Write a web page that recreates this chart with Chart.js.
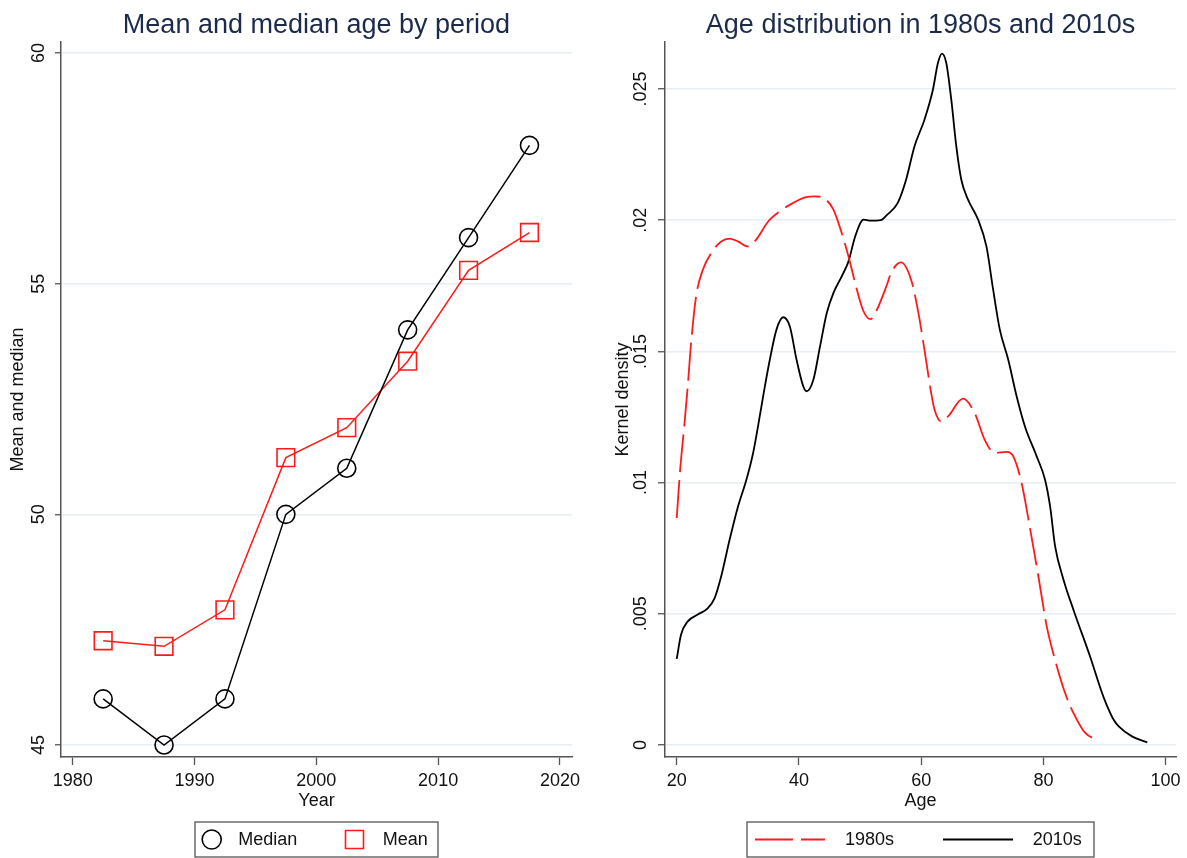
<!DOCTYPE html>
<html>
<head>
<meta charset="utf-8">
<title>Age by period</title>
<script src="https://cdn.jsdelivr.net/npm/chart.js@4/dist/chart.umd.min.js"></script>
<style>
  html, body { margin: 0; padding: 0; background: #fff; }
  #wrap { position: relative; width: 1187px; height: 858px; overflow: hidden; }
  canvas { position: absolute; top: 0; }
  #left { left: 0; }
  #right { left: 600px; }
</style>
</head>
<body>
<div id="wrap">
  <canvas id="left" width="600" height="858" style="width:600px;height:858px"></canvas>
  <canvas id="right" width="587" height="858" style="width:587px;height:858px"></canvas>
</div>
<script>
// ---- left panel: mean and median age, by five-year period ----
const periodMid = [1982.5, 1987.5, 1992.5, 1997.5, 2002.5, 2007.5, 2012.5, 2017.5];
const medianAge = [46, 45, 46, 50, 51, 54, 56, 58];
const meanAge = [47.26, 47.14, 47.93, 51.23, 51.88, 53.32, 55.29, 56.11];
const yearTicks = [1980, 1990, 2000, 2010, 2020];
const ageTicks = [45, 50, 55, 60];

// ---- right panel: kernel density of age ----
const age1980s = [20, 20.54, 21.25, 21.8, 22.35, 23.17, 24.27, 25.64, 27.28, 28.65, 30.0, 31.67, 33.0,
  34.96, 36.87, 39.07, 40.98, 42.62, 44.27, 45.64, 47.0, 48.11, 49.48, 50.58, 51.67, 52.76, 54.4, 55.07,
  56.7, 58.35, 59.45, 60.54, 61.64, 62.19, 63.29, 64.39, 66.85, 68.76, 70.4, 72.05, 73.97, 75.07, 76.44,
  77.8, 79.18, 80.55, 81.9, 83.55, 85.2, 86.84, 89.05];
const dens1980s = [0.00865, 0.01043, 0.0122, 0.01367, 0.01532, 0.0171, 0.01811, 0.01875, 0.01919, 0.0193,
  0.01919, 0.019, 0.01926, 0.01995, 0.02034, 0.02066, 0.02087, 0.02091, 0.02081, 0.0204, 0.01951, 0.01862,
  0.01735, 0.01652, 0.01623, 0.01659, 0.01754, 0.01799, 0.01839, 0.01773, 0.01659, 0.01506, 0.01341,
  0.01278, 0.01233, 0.01252, 0.0132, 0.01265, 0.01163, 0.01113, 0.01117, 0.011, 0.00998, 0.00827, 0.00643,
  0.00452, 0.00325, 0.00198, 0.00109, 0.00046, 0.00018];
const age2010s = [20, 20.7, 21.8, 23.45, 25.1, 26.2, 27.28, 28.65, 30.03, 31.4, 32.5, 33.58, 34.14, 35.23,
  36.32, 37.42, 38.51, 39.61, 40.7, 41.25, 42.36, 43.45, 44.55, 45.65, 47.0, 48.11, 49.2, 50.58, 51.7,
  53.4, 54.4, 56.17, 57.53, 58.9, 60.54, 61.92, 62.74, 63.4, 64.11, 64.93, 65.75, 66.57, 67.67, 69.32,
  70.68, 71.78, 72.87, 74.25, 75.62, 76.98, 78.9, 80.27, 81.1, 81.92, 83.29, 85.0, 87.6, 89.6, 90.4, 91.5,
  92.33, 94.5, 97.0];
const dens2010s = [0.00328, 0.0042, 0.00471, 0.00497, 0.00522, 0.0056, 0.00643, 0.00782, 0.00909, 0.01011,
  0.01113, 0.01252, 0.01329, 0.01468, 0.01583, 0.0163, 0.01595, 0.01468, 0.01367, 0.01348, 0.01392, 0.01519,
  0.01646, 0.01723, 0.01786, 0.01843, 0.01938, 0.02002, 0.01998, 0.02, 0.0202, 0.02066, 0.02154, 0.02281,
  0.02383, 0.02497, 0.02599, 0.02635, 0.02599, 0.02459, 0.02281, 0.02154, 0.02078, 0.02002, 0.019, 0.01735,
  0.01583, 0.01468, 0.01329, 0.01214, 0.011, 0.01011, 0.00909, 0.00757, 0.0063, 0.0051, 0.0034, 0.00198,
  0.0015, 0.00096, 0.00071, 0.00033, 0.0001];
const densAgeTicks = [20, 40, 60, 80, 100];
const densTicks = [0, 0.005, 0.01, 0.015, 0.02, 0.025];
const densTickLabels = ['0', '.005', '.01', '.015', '.02', '.025'];

const FONT = '"Liberation Sans", Arial, Helvetica, sans-serif';
const AXIS = '#555555';
const GRID = '#e6eef4';
const NAVY = '#1c2b4a';

Chart.defaults.font.family = FONT;
Chart.defaults.color = '#111111';

const toPoints = (xs, ys) => xs.map((x, i) => ({ x: x, y: ys[i] }));
const fixTicks = (values) => (scale) => { scale.ticks = values.map(v => ({ value: v })); };

// legend in a framed box, Stata style
const boxLegend = {
  id: 'boxLegend',
  afterDraw(chart, args, opts) {
    if (!opts || !opts.box) return;
    const ctx = chart.ctx;
    const [x0, y0, x1, y1] = opts.box;
    const cy = (y0 + y1) / 2;
    ctx.save();
    ctx.strokeStyle = AXIS;
    ctx.lineWidth = 1.3;
    ctx.strokeRect(x0, y0, x1 - x0, y1 - y0);
    ctx.font = '18px ' + FONT;
    ctx.textBaseline = 'middle';
    chart.data.datasets.forEach((ds, i) => {
      const it = opts.items[i];
      ctx.strokeStyle = ds.borderColor;
      ctx.lineWidth = ds.pointBorderWidth || ds.borderWidth;
      ctx.beginPath();
      if (it.lineTo) {
        ctx.setLineDash(ds.borderDash || []);
        ctx.moveTo(it.mark, cy);
        ctx.lineTo(it.lineTo, cy);
      } else if (ds.pointStyle === 'circle') {
        ctx.arc(it.mark, cy, it.size / 2, 0, Math.PI * 2);
      } else {
        ctx.rect(it.mark - it.size / 2, cy - it.size / 2, it.size, it.size);
      }
      ctx.stroke();
      ctx.setLineDash([]);
      ctx.fillStyle = '#111111';
      ctx.fillText(ds.label, it.text, cy + 1);
    });
    ctx.restore();
  }
};

function panelTitle(text) {
  return {
    display: true, text: text, fullSize: false, color: NAVY,
    font: { size: 27, weight: 'normal', family: FONT },
    padding: { top: 9, bottom: 0.6 }
  };
}

// ---------------- left chart ----------------
new Chart(document.getElementById('left'), {
  type: 'line',
  data: {
    datasets: [
      {
        label: 'Median',
        data: toPoints(periodMid, medianAge),
        borderColor: '#000000',
        borderWidth: 1.5,
        pointStyle: 'circle',
        pointRadius: 9,
        pointBorderWidth: 1.6,
        pointBackgroundColor: 'rgba(0,0,0,0)',
        pointBorderColor: '#000000',
        tension: 0
      },
      {
        label: 'Mean',
        data: toPoints(periodMid, meanAge),
        borderColor: '#ff1a1a',
        borderWidth: 1.5,
        pointStyle: 'rect',
        pointRadius: 12.5,
        pointBorderWidth: 1.6,
        pointBackgroundColor: 'rgba(0,0,0,0)',
        pointBorderColor: '#ff1a1a',
        tension: 0
      }
    ]
  },
  options: {
    responsive: false,
    animation: false,
    layout: { padding: { left: 0, right: 28, top: 0, bottom: 0 } },
    plugins: {
      legend: { display: false },
      tooltip: { enabled: false },
      title: panelTitle('Mean and median age by period'),
      boxLegend: {
        box: [195, 822, 438, 857],
        items: [
          { mark: 211.7, size: 19, text: 238.3 },
          { mark: 354.5, size: 18, text: 382.7 }
        ]
      }
    },
    scales: {
      x: {
        type: 'linear',
        min: 1979.04,
        max: 2020.99,
        afterBuildTicks: fixTicks(yearTicks),
        afterFit: (s) => { s.height = 101; },
        grid: { drawOnChartArea: false, tickLength: 8, tickColor: AXIS, tickWidth: 1.3 },
        border: { color: AXIS, width: 1.5 },
        ticks: { font: { size: 18 }, padding: 5, color: '#111', maxRotation: 0, callback: (v) => String(v) },
        title: { display: true, text: 'Year', font: { size: 18 }, padding: { top: 0, bottom: 46 }, color: '#111' }
      },
      y: {
        type: 'linear',
        min: 44.74,
        max: 60.24,
        afterBuildTicks: fixTicks(ageTicks),
        afterFit: (s) => { s.width = 61; },
        grid: { color: GRID, lineWidth: 1.5, tickLength: 6, tickColor: AXIS, tickWidth: 1.3 },
        border: { color: AXIS, width: 1.5 },
        ticks: { font: { size: 18 }, padding: 6, color: '#111', minRotation: 90, maxRotation: 90, crossAlign: 'center', autoSkip: false },
        title: { display: true, text: 'Mean and median', font: { size: 18 }, padding: { top: 7, bottom: 0 }, color: '#111' }
      }
    }
  },
  plugins: [boxLegend]
});

// ---------------- right chart ----------------
new Chart(document.getElementById('right'), {
  type: 'line',
  data: {
    datasets: [
      {
        label: '1980s',
        data: toPoints(age1980s, dens1980s),
        borderColor: '#ff1a1a',
        borderWidth: 1.8,
        borderDash: [38, 8],
        pointRadius: 0,
        cubicInterpolationMode: 'monotone'
      },
      {
        label: '2010s',
        data: toPoints(age2010s, dens2010s),
        borderColor: '#000000',
        borderWidth: 1.8,
        pointRadius: 0,
        cubicInterpolationMode: 'monotone'
      }
    ]
  },
  options: {
    responsive: false,
    animation: false,
    layout: { padding: { left: 0, right: 11, top: 0, bottom: 0 } },
    plugins: {
      legend: { display: false },
      tooltip: { enabled: false },
      title: panelTitle('Age distribution in 1980s and 2010s'),
      boxLegend: {
        box: [147, 822, 494, 857],
        items: [
          { mark: 155, lineTo: 225, text: 245 },
          { mark: 343, lineTo: 413, text: 432.7 }
        ]
      }
    },
    scales: {
      x: {
        type: 'linear',
        min: 18.08,
        max: 101.7,
        afterBuildTicks: fixTicks(densAgeTicks),
        afterFit: (s) => { s.height = 101; },
        grid: { drawOnChartArea: false, tickLength: 8, tickColor: AXIS, tickWidth: 1.3 },
        border: { color: AXIS, width: 1.5 },
        ticks: { font: { size: 18 }, padding: 5, color: '#111', maxRotation: 0 },
        title: { display: true, text: 'Age', font: { size: 18 }, padding: { top: 0, bottom: 46 }, color: '#111' }
      },
      y: {
        type: 'linear',
        min: -0.000457,
        max: 0.02679,
        afterBuildTicks: fixTicks(densTicks),
        afterFit: (s) => { s.width = 65; },
        grid: { color: GRID, lineWidth: 1.5, tickLength: 7, tickColor: AXIS, tickWidth: 1.3 },
        border: { color: AXIS, width: 1.5 },
        ticks: {
          font: { size: 18 }, padding: -1, color: '#111', minRotation: 90, maxRotation: 90,
          crossAlign: 'center', autoSkip: false,
          callback: (v) => densTickLabels[densTicks.indexOf(v)]
        },
        title: { display: true, text: 'Kernel density', font: { size: 18 }, padding: { top: 12, bottom: 0 }, color: '#111' }
      }
    }
  },
  plugins: [boxLegend]
});
</script>
</body>
</html>
